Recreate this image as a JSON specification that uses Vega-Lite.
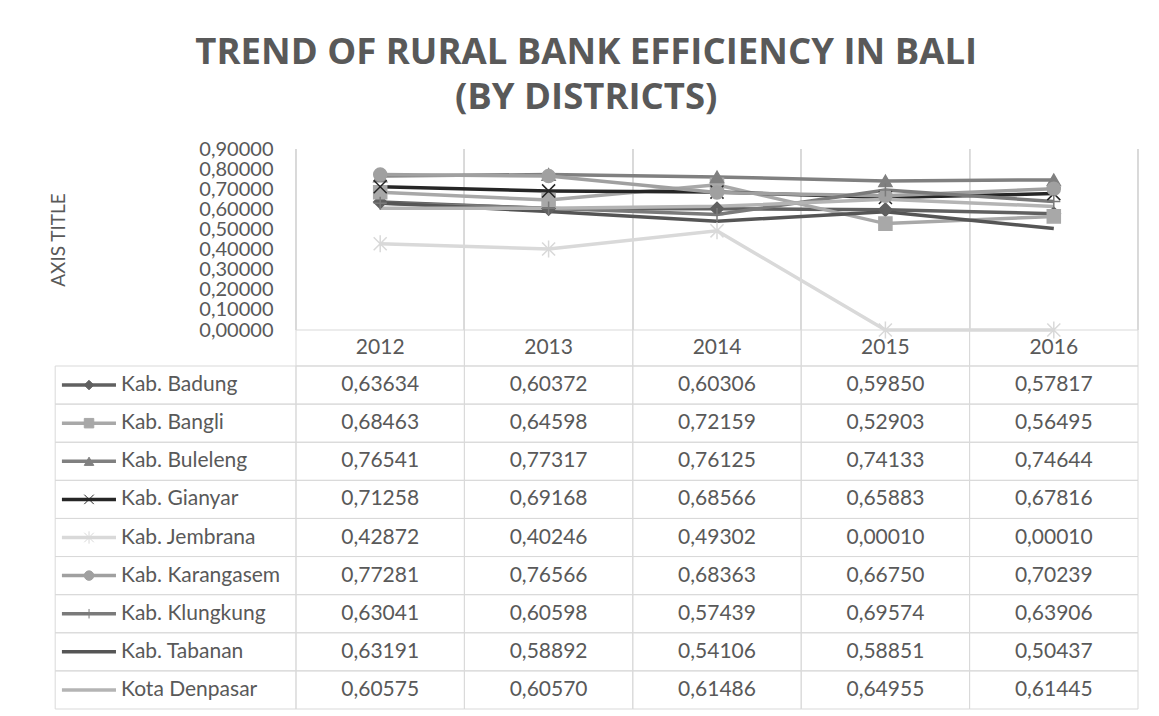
{
  "$schema": "https://vega.github.io/schema/vega-lite/v6.json",
  "background": "white",
  "padding": {"left": 49, "top": 34, "right": 20, "bottom": 4},
  "spacing": 0,
  "bounds": "flush",
  "title": {
    "text": ["TREND OF RURAL BANK EFFICIENCY IN BALI", "(BY DISTRICTS)"],
    "font": "Open Sans",
    "fontSize": 36.5,
    "fontWeight": "bold",
    "color": "#595959",
    "lineHeight": 45,
    "anchor": "middle",
    "dx": -8,
    "offset": 23
  },
  "datasets": {
    "eff": [
      {"district": "Kab. Badung", "year": "2012", "value": 0.63634},
      {"district": "Kab. Badung", "year": "2013", "value": 0.60372},
      {"district": "Kab. Badung", "year": "2014", "value": 0.60306},
      {"district": "Kab. Badung", "year": "2015", "value": 0.59850},
      {"district": "Kab. Badung", "year": "2016", "value": 0.57817},
      {"district": "Kab. Bangli", "year": "2012", "value": 0.68463},
      {"district": "Kab. Bangli", "year": "2013", "value": 0.64598},
      {"district": "Kab. Bangli", "year": "2014", "value": 0.72159},
      {"district": "Kab. Bangli", "year": "2015", "value": 0.52903},
      {"district": "Kab. Bangli", "year": "2016", "value": 0.56495},
      {"district": "Kab. Buleleng", "year": "2012", "value": 0.76541},
      {"district": "Kab. Buleleng", "year": "2013", "value": 0.77317},
      {"district": "Kab. Buleleng", "year": "2014", "value": 0.76125},
      {"district": "Kab. Buleleng", "year": "2015", "value": 0.74133},
      {"district": "Kab. Buleleng", "year": "2016", "value": 0.74644},
      {"district": "Kab. Gianyar", "year": "2012", "value": 0.71258},
      {"district": "Kab. Gianyar", "year": "2013", "value": 0.69168},
      {"district": "Kab. Gianyar", "year": "2014", "value": 0.68566},
      {"district": "Kab. Gianyar", "year": "2015", "value": 0.65883},
      {"district": "Kab. Gianyar", "year": "2016", "value": 0.67816},
      {"district": "Kab. Jembrana", "year": "2012", "value": 0.42872},
      {"district": "Kab. Jembrana", "year": "2013", "value": 0.40246},
      {"district": "Kab. Jembrana", "year": "2014", "value": 0.49302},
      {"district": "Kab. Jembrana", "year": "2015", "value": 0.00010},
      {"district": "Kab. Jembrana", "year": "2016", "value": 0.00010},
      {"district": "Kab. Karangasem", "year": "2012", "value": 0.77281},
      {"district": "Kab. Karangasem", "year": "2013", "value": 0.76566},
      {"district": "Kab. Karangasem", "year": "2014", "value": 0.68363},
      {"district": "Kab. Karangasem", "year": "2015", "value": 0.66750},
      {"district": "Kab. Karangasem", "year": "2016", "value": 0.70239},
      {"district": "Kab. Klungkung", "year": "2012", "value": 0.63041},
      {"district": "Kab. Klungkung", "year": "2013", "value": 0.60598},
      {"district": "Kab. Klungkung", "year": "2014", "value": 0.57439},
      {"district": "Kab. Klungkung", "year": "2015", "value": 0.69574},
      {"district": "Kab. Klungkung", "year": "2016", "value": 0.63906},
      {"district": "Kab. Tabanan", "year": "2012", "value": 0.63191},
      {"district": "Kab. Tabanan", "year": "2013", "value": 0.58892},
      {"district": "Kab. Tabanan", "year": "2014", "value": 0.54106},
      {"district": "Kab. Tabanan", "year": "2015", "value": 0.58851},
      {"district": "Kab. Tabanan", "year": "2016", "value": 0.50437},
      {"district": "Kota Denpasar", "year": "2012", "value": 0.60575},
      {"district": "Kota Denpasar", "year": "2013", "value": 0.60570},
      {"district": "Kota Denpasar", "year": "2014", "value": 0.61486},
      {"district": "Kota Denpasar", "year": "2015", "value": 0.64955},
      {"district": "Kota Denpasar", "year": "2016", "value": 0.61445}
    ]
  },
  "vconcat": [
    {
      "width": 842,
      "height": 181,
      "data": {"name": "eff"},
      "layer": [
        {
          "mark": {"type": "rule", "color": "#d9d9d9", "strokeWidth": 1},
          "encoding": {
            "x": {"field": "year", "type": "ordinal", "bandPosition": 0,
                  "scale": {"type": "band", "domain": ["2012", "2013", "2014", "2015", "2016"], "paddingInner": 0, "paddingOuter": 0},
                  "axis": null}
          }
        },
        {
          "mark": {"type": "rule", "color": "#d9d9d9", "strokeWidth": 1},
          "encoding": {
            "x": {"field": "year", "type": "ordinal", "bandPosition": 1}
          }
        },
        {
          "mark": {"type": "line", "strokeWidth": 3.5},
          "encoding": {
            "x": {"field": "year", "type": "ordinal", "bandPosition": 0.5},
            "y": {"field": "value", "type": "quantitative",
                  "scale": {"domain": [0, 0.9], "nice": false},
                  "axis": {"values": [0, 0.1, 0.2, 0.3, 0.4, 0.5, 0.6, 0.7, 0.8, 0.9], "format": ".5f",
                           "labelFontSize": 20, "labelColor": "#595959", "labelPadding": 23,
                           "labelOverlap": false, "labelBound": false, "labelFlush": false,
                           "ticks": false, "domain": false, "grid": false,
                           "title": "AXIS TITLE", "titleFontSize": 19, "titleFontWeight": "normal",
                           "titleColor": "#595959", "titlePadding": 130}},
            "color": {"field": "district", "type": "nominal", "legend": null,
                      "scale": {"domain": ["Kab. Badung", "Kab. Bangli", "Kab. Buleleng", "Kab. Gianyar", "Kab. Jembrana", "Kab. Karangasem", "Kab. Klungkung", "Kab. Tabanan", "Kota Denpasar"],
                                "range": ["#606060", "#a8a8a8", "#808080", "#262626", "#d9d9d9", "#a0a0a0", "#7a7a7a", "#555555", "#b4b4b4"]}}
          }
        },
        {
          "transform": [{"filter": {"field": "district", "oneOf": ["Kab. Badung", "Kab. Bangli", "Kab. Buleleng", "Kab. Gianyar", "Kab. Jembrana", "Kab. Karangasem", "Kab. Klungkung"]}}],
          "mark": {"type": "point", "filled": true, "size": 170, "strokeWidth": 1.5, "opacity": 1},
          "encoding": {
            "x": {"field": "year", "type": "ordinal", "bandPosition": 0.5},
            "y": {"field": "value", "type": "quantitative",
                  "scale": {"domain": [0, 0.9], "nice": false},
                  "axis": {"values": [0, 0.1, 0.2, 0.3, 0.4, 0.5, 0.6, 0.7, 0.8, 0.9], "format": ".5f",
                           "labelFontSize": 20, "labelColor": "#595959", "labelPadding": 23,
                           "labelOverlap": false, "labelBound": false, "labelFlush": false,
                           "ticks": false, "domain": false, "grid": false,
                           "title": "AXIS TITLE", "titleFontSize": 19, "titleFontWeight": "normal",
                           "titleColor": "#595959", "titlePadding": 130}},
            "fill": {"field": "district", "type": "nominal", "legend": null,
                     "scale": {"domain": ["Kab. Badung", "Kab. Bangli", "Kab. Buleleng", "Kab. Gianyar", "Kab. Jembrana", "Kab. Karangasem", "Kab. Klungkung"],
                               "range": ["#606060", "#a8a8a8", "#808080", "#262626", "#d9d9d9", "#a0a0a0", "#7a7a7a"]}},
            "stroke": {"field": "district", "type": "nominal", "legend": null,
                       "scale": {"domain": ["Kab. Badung", "Kab. Bangli", "Kab. Buleleng", "Kab. Gianyar", "Kab. Jembrana", "Kab. Karangasem", "Kab. Klungkung"],
                                 "range": ["#606060", "#a8a8a8", "#808080", "#262626", "#d9d9d9", "#a0a0a0", "#7a7a7a"]}},
            "shape": {"field": "district", "type": "nominal", "legend": null,
                      "scale": {"domain": ["Kab. Badung", "Kab. Bangli", "Kab. Buleleng", "Kab. Gianyar", "Kab. Jembrana", "Kab. Karangasem", "Kab. Klungkung"],
                                "range": ["diamond", "square", "triangle-up", "M-1,-1L1,1M-1,1L1,-1", "M-1,-1L1,1M-1,1L1,-1M0,-1.3L0,1.3", "circle", "M0,-1L0,1M-1,0L1,0"]}}
          }
        }
      ]
    },
    {
      "width": 842,
      "height": 36,
      "data": {"name": "eff"},
      "transform": [{"filter": "datum.district == 'Kab. Badung'"}],
      "layer": [
        {
          "mark": {"type": "rect", "filled": false, "stroke": "#d9d9d9", "strokeWidth": 1},
          "encoding": {
            "x": {"field": "year", "type": "ordinal",
                  "scale": {"type": "band", "domain": ["2012", "2013", "2014", "2015", "2016"], "paddingInner": 0, "paddingOuter": 0},
                  "axis": null}
          }
        },
        {
          "mark": {"type": "text", "fontSize": 21, "color": "#595959", "font": "Lato"},
          "encoding": {
            "x": {"field": "year", "type": "ordinal", "bandPosition": 0.5},
            "text": {"field": "year", "type": "nominal"}
          }
        }
      ]
    },
    {
      "width": 842,
      "height": 343,
      "data": {"name": "eff"},
      "resolve": {"scale": {"x": "independent"}},
      "layer": [
        {
          "mark": {"type": "rect", "filled": false, "stroke": "#d9d9d9", "strokeWidth": 1},
          "encoding": {
            "x": {"field": "year", "type": "ordinal",
                  "scale": {"type": "band", "domain": ["2012", "2013", "2014", "2015", "2016"], "paddingInner": 0, "paddingOuter": 0},
                  "axis": null},
            "y": {"field": "district", "type": "nominal",
                  "scale": {"type": "band", "domain": ["Kab. Badung", "Kab. Bangli", "Kab. Buleleng", "Kab. Gianyar", "Kab. Jembrana", "Kab. Karangasem", "Kab. Klungkung", "Kab. Tabanan", "Kota Denpasar"], "paddingInner": 0, "paddingOuter": 0},
                  "axis": null}
          }
        },
        {
          "mark": {"type": "text", "fontSize": 21, "color": "#595959", "font": "Lato"},
          "encoding": {
            "x": {"field": "year", "type": "ordinal", "bandPosition": 0.5,
                  "scale": {"type": "band", "domain": ["2012", "2013", "2014", "2015", "2016"], "paddingInner": 0, "paddingOuter": 0},
                  "axis": null},
            "y": {"field": "district", "type": "nominal", "bandPosition": 0.5},
            "text": {"field": "value", "type": "quantitative", "format": ".5f"}
          }
        },
        {
          "transform": [{"filter": "datum.year == '2012'"}],
          "mark": {"type": "rect", "filled": false, "stroke": "#d9d9d9", "strokeWidth": 1, "clip": false},
          "encoding": {
            "x": {"datum": 2010.07, "type": "quantitative", "scale": {"domain": [2011.5, 2016.5], "nice": false, "zero": false}, "axis": null},
            "x2": {"datum": 2011.5},
            "y": {"field": "district", "type": "nominal"}
          }
        },
        {
          "transform": [{"filter": "datum.year == '2012'"}],
          "mark": {"type": "rule", "strokeWidth": 3.5, "clip": false},
          "encoding": {
            "x": {"datum": 2010.11, "type": "quantitative", "scale": {"domain": [2011.5, 2016.5], "nice": false, "zero": false}, "axis": null},
            "x2": {"datum": 2010.431},
            "y": {"field": "district", "type": "nominal", "bandPosition": 0.5},
            "color": {"field": "district", "type": "nominal", "legend": null,
                      "scale": {"domain": ["Kab. Badung", "Kab. Bangli", "Kab. Buleleng", "Kab. Gianyar", "Kab. Jembrana", "Kab. Karangasem", "Kab. Klungkung", "Kab. Tabanan", "Kota Denpasar"],
                                "range": ["#606060", "#a8a8a8", "#808080", "#262626", "#d9d9d9", "#a0a0a0", "#7a7a7a", "#555555", "#b4b4b4"]}}
          }
        },
        {
          "transform": [{"filter": "datum.year == '2012'"}, {"filter": {"field": "district", "oneOf": ["Kab. Badung", "Kab. Bangli", "Kab. Buleleng", "Kab. Gianyar", "Kab. Jembrana", "Kab. Karangasem", "Kab. Klungkung"]}}],
          "mark": {"type": "point", "filled": true, "size": 90, "strokeWidth": 1, "opacity": 1, "clip": false},
          "encoding": {
            "x": {"datum": 2010.271, "type": "quantitative", "scale": {"domain": [2011.5, 2016.5], "nice": false, "zero": false}, "axis": null},
            "y": {"field": "district", "type": "nominal", "bandPosition": 0.5},
            "fill": {"field": "district", "type": "nominal", "legend": null,
                     "scale": {"domain": ["Kab. Badung", "Kab. Bangli", "Kab. Buleleng", "Kab. Gianyar", "Kab. Jembrana", "Kab. Karangasem", "Kab. Klungkung"],
                               "range": ["#606060", "#a8a8a8", "#808080", "#262626", "#d9d9d9", "#a0a0a0", "#7a7a7a"]}},
            "stroke": {"field": "district", "type": "nominal", "legend": null,
                       "scale": {"domain": ["Kab. Badung", "Kab. Bangli", "Kab. Buleleng", "Kab. Gianyar", "Kab. Jembrana", "Kab. Karangasem", "Kab. Klungkung"],
                                 "range": ["#606060", "#a8a8a8", "#808080", "#262626", "#d9d9d9", "#a0a0a0", "#7a7a7a"]}},
            "shape": {"field": "district", "type": "nominal", "legend": null,
                      "scale": {"domain": ["Kab. Badung", "Kab. Bangli", "Kab. Buleleng", "Kab. Gianyar", "Kab. Jembrana", "Kab. Karangasem", "Kab. Klungkung"],
                                "range": ["diamond", "square", "triangle-up", "M-1,-1L1,1M-1,1L1,-1", "M-1,-1L1,1M-1,1L1,-1M0,-1.3L0,1.3", "circle", "M0,-1L0,1M-1,0L1,0"]}}
          }
        },
        {
          "transform": [{"filter": "datum.year == '2012'"}],
          "mark": {"type": "text", "fontSize": 21, "color": "#595959", "font": "Lato", "align": "left", "clip": false},
          "encoding": {
            "x": {"datum": 2010.461, "type": "quantitative", "scale": {"domain": [2011.5, 2016.5], "nice": false, "zero": false}, "axis": null},
            "y": {"field": "district", "type": "nominal", "bandPosition": 0.5},
            "text": {"field": "district", "type": "nominal"}
          }
        }
      ]
    }
  ],
  "config": {
    "view": {"stroke": null},
    "font": "Lato",
    "axis": {"labelFont": "Lato", "titleFont": "Lato"},
    "locale": {"number": {"decimal": ",", "thousands": ".", "grouping": [3], "currency": ["", ""]}}
  }
}
